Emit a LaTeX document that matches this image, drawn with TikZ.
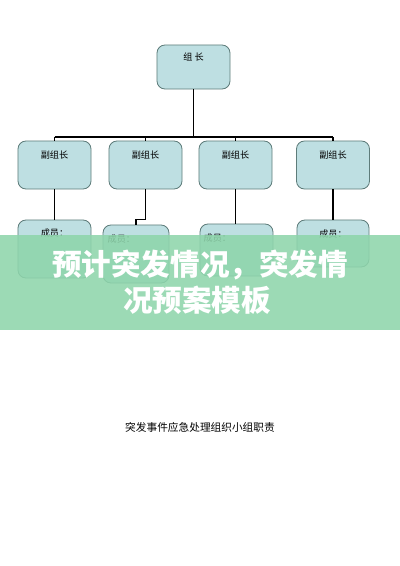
\documentclass[tikz,border=0pt]{standalone}
\usepackage{fontspec}
\newfontfamily\cjk{Noto Sans CJK SC}
\usepackage{tikz}
\definecolor{boxfill}{HTML}{BEDFE2}
\definecolor{boxline}{HTML}{5E7C7A}
\definecolor{bandgreen}{HTML}{8ED5AB}

\begin{document}
\begin{tikzpicture}[x=0.025cm, y=-0.025cm, line width=0.9pt,
    box/.style = {draw=boxline, fill=boxfill, line width=0.6pt, rounded corners=0.2cm},
    tag/.style = {font=\cjk\fontsize{6.5}{7}\selectfont, inner sep=0pt}]
    \useasboundingbox (0,0) rectangle (400,566);

    % leader
    \node[box, minimum width=1.825cm, minimum height=1.1cm] (top) at (193.5,67) {};
    \node[tag] (ttop) at (193.5,57) {组\ 长};

    % deputies
    \node[box, minimum width=1.825cm, minimum height=1.2cm] (d1) at (54.5,165) {};
    \node[box, minimum width=1.825cm, minimum height=1.2cm] (d2) at (145.5,165) {};
    \node[box, minimum width=1.825cm, minimum height=1.2cm] (d3) at (235.5,165) {};
    \node[box, minimum width=1.825cm, minimum height=1.2cm] (d4) at (333,165) {};
    \node[tag] (td1) at (54.5,155) {副组长};
    \node[tag] (td2) at (145.5,155) {副组长};
    \node[tag] (td3) at (235.5,155) {副组长};
    \node[tag] (td4) at (333,155) {副组长};

    % members
    \node[box, minimum width=1.825cm, minimum height=1.45cm] (m1) at (54.5,249) {};
    \node[box, minimum width=1.65cm, minimum height=1.45cm] (m2) at (136,254) {};
    \node[box, minimum width=1.825cm, minimum height=1.3cm] (m3) at (236.5,250) {};
    \node[box, minimum width=1.8cm, minimum height=1.175cm] (m4) at (333,243.5) {};
    \node[tag] (tm1) at (54.5,233) {成员：};
    \node[tag, anchor=west] (tm2) at (107,239) {成员：};
    \node[tag, anchor=west] (tm3) at (203,238) {成员：};
    \node[tag] (tm4) at (333,234) {成员：};

    \coordinate (bus) at (193.5,137);
    \draw (top) -- (bus);
    \draw (d1.north |- bus) -- (d4.north |- bus);
    \draw (d1.north |- bus) -- (d1);
    \draw (d2.north |- bus) -- (d2);
    \draw (d3.north |- bus) -- (d3);
    \draw (d4.north |- bus) -- (d4);

    \draw (d1) -- (m1);
    \draw (d2.south) -- ++(0,30) -| (m2.north);
    \draw (d3) -- (m3.north -| d3.south);
    \draw (d4) -- (m4);

    % banner
    \fill[bandgreen, opacity=0.88] (0,235) rectangle (400,330);
    \node[font=\cjk\bfseries\fontsize{21}{24}\selectfont, text=white, inner sep=0pt] (l1) at (200,265) {预计突发情况，突发情};
    \node[font=\cjk\bfseries\fontsize{21}{24}\selectfont, text=white, inner sep=0pt] (l2) at (197,300) {况预案模板};

    \node[font=\cjk\fontsize{7.6}{9}\selectfont, inner sep=0pt] (cap) at (200,427) {突发事件应急处理组织小组职责};
\end{tikzpicture}
\end{document}
